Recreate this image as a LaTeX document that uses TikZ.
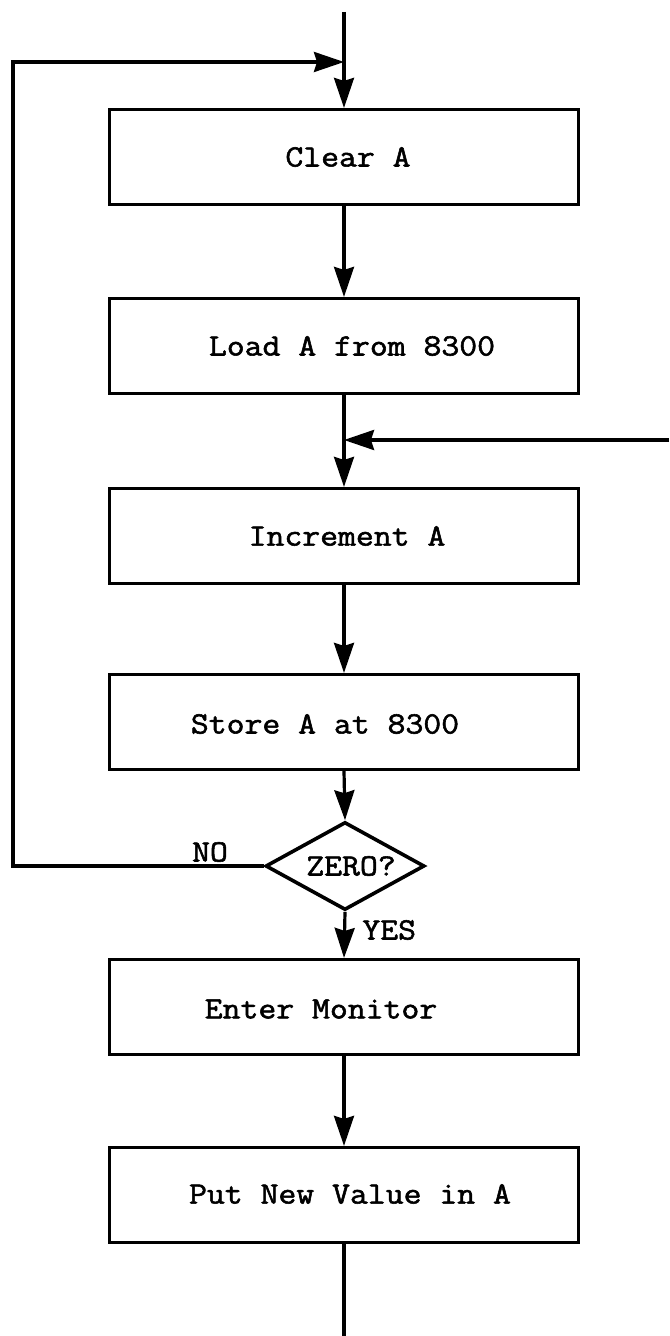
\documentclass[tikz,border=0pt]{standalone}
\usepackage{fontspec}
\usetikzlibrary{arrows.meta,shapes.geometric}
\newfontfamily\monofnt[FakeBold=1.8,FakeStretch=1.12]{Latin Modern Mono}
\tikzset{
  box/.style={draw, line width=1.6pt, minimum width=234.5pt, minimum height=47.5pt, inner sep=0pt},
  txt/.style={font=\monofnt\fontsize{15.5}{18}\selectfont, inner sep=0pt},
  arr/.style={line width=1.6pt, -{Stealth[length=15pt,width=10pt,inset=1.5pt]}},
  ln/.style={line width=1.6pt},
  decision/.style={draw, diamond, line width=1.8pt, minimum width=79.5pt, minimum height=44pt, inner sep=0pt},
}
\begin{document}
\begin{tikzpicture}[x=0.5pt,y=-0.5pt]
\useasboundingbox (0,0) rectangle (669,1336);
% boxes
\node[box] (clr) at (344,157) {};
\node[txt] (clrT) at (348,157) {Clear A};
\node[box] (load) at (344,346) {};
\node[txt] (loadT) at (352,346) {Load A from 8300};
\node[box] (inc) at (344,536) {};
\node[txt] (incT) at (347,536) {Increment A};
\node[box] (sto) at (344,722) {};
\node[txt] (stoT) at (325,724) {Store A at 8300};
\node[decision] (dia) at (345,866) {};
\node[txt] (diaT) at (351,866) {ZERO?};
\node[box] (ent) at (344,1007) {};
\node[txt] (entT) at (321,1009) {Enter Monitor};
\node[box] (put) at (344,1195) {};
\node[txt] (putT) at (350,1194) {Put New Value in A};
% labels
\node[txt] (no) at (210,852) {NO};
\node[txt, anchor=west] (yes) at (362,930) {YES};
% coordinates
\coordinate (top) at (344,12);
\coordinate (j1) at (344,62);
\coordinate (lft) at (13,62);
\coordinate (rin) at (669,440);
\coordinate (j2) at (344,440);
\coordinate (bot) at (344,1336);
% connectors
\draw[arr] (top) -- (clr.north);
\draw[arr] (dia.west) -| (lft) -- (j1);
\draw[arr] (clr.south) -- (load.north);
\draw[arr] (load.south) -- (inc.north);
\draw[arr] (rin) -- (j2);
\draw[arr] (inc.south) -- (sto.north);
\draw[arr] (sto.south) -- (dia.north);
\draw[arr] (dia.south) -- (ent.north);
\draw[arr] (ent.south) -- (put.north);
\draw[ln] (put.south) -- (bot);
\end{tikzpicture}
\end{document}
